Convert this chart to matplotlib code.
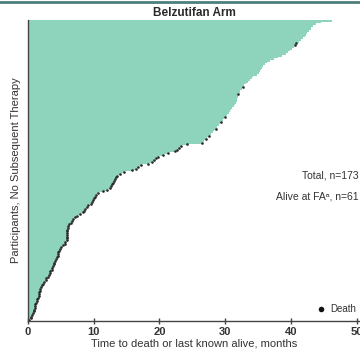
import numpy as np
import matplotlib
matplotlib.use('Agg')
import matplotlib.pyplot as plt
from matplotlib.lines import Line2D

plt.rcParams['font.family'] = ['Liberation Sans', 'DejaVu Sans']

# time on study (months) per participant, sorted longest first
months = [
    46.3, 44.5, 43.8, 43.4, 43.1, 43.0, 42.7, 42.5, 42.3, 42.1,
    41.8, 41.5, 41.2, 40.8, 40.6, 40.4, 40.2, 39.9, 39.6, 39.2,
    38.7, 38.1, 37.4, 36.8, 36.4, 36.0, 35.8, 35.6, 35.4, 35.3,
    35.2, 34.8, 34.3, 34.0, 33.7, 33.4, 33.1, 32.9, 32.7, 32.5,
    32.3, 32.2, 32.0, 32.0, 31.9, 31.8, 31.8, 31.7, 31.5, 31.3,
    31.1, 30.9, 30.8, 30.6, 30.3, 30.0, 29.8, 29.6, 29.4, 29.2,
    29.0, 28.8, 28.6, 28.3, 28.1, 27.8, 27.6, 27.3, 27.0, 26.7,
    26.4, 24.2, 23.2, 22.9, 22.7, 22.3, 21.3, 20.6, 19.7, 19.5,
    19.2, 18.9, 18.2, 17.2, 16.8, 16.4, 15.8, 14.6, 14.0, 13.6,
    13.4, 13.3, 13.1, 12.9, 12.8, 12.6, 12.4, 12.0, 11.4, 10.7,
    10.4, 10.2, 10.1, 9.9, 9.7, 9.6, 9.2, 9.0, 8.7, 8.5,
    8.3, 7.9, 7.5, 7.2, 6.9, 6.7, 6.5, 6.3, 6.1, 6.1,
    6.0, 6.0, 6.0, 6.0, 5.9, 5.9, 5.9, 5.7, 5.6, 5.3,
    5.0, 4.8, 4.7, 4.6, 4.6, 4.5, 4.4, 4.3, 4.1, 4.0,
    3.9, 3.8, 3.7, 3.6, 3.4, 3.3, 3.2, 3.0, 2.8, 2.7,
    2.5, 2.3, 2.2, 2.0, 1.9, 1.8, 1.7, 1.6, 1.6, 1.5,
    1.4, 1.3, 1.2, 1.1, 1.1, 1.0, 0.9, 0.9, 0.8, 0.6,
    0.5, 0.4, 0.2,
]

# 1 = died, 0 = alive at final analysis (same order as months)
died = [
    0, 0, 0, 0, 0, 0, 0, 0, 0, 0,
    0, 0, 0, 1, 1, 0, 0, 0, 0, 0,
    0, 0, 0, 0, 0, 0, 0, 0, 0, 0,
    0, 0, 0, 0, 0, 0, 0, 0, 1, 0,
    0, 0, 1, 0, 0, 0, 0, 0, 0, 0,
    0, 0, 0, 0, 0, 1, 0, 0, 1, 0,
    0, 0, 1, 0, 0, 0, 1, 0, 1, 0,
    1, 1, 1, 1, 1, 1, 1, 1, 1, 1,
    1, 1, 1, 1, 1, 1, 1, 1, 1, 1,
    1, 1, 1, 1, 1, 1, 1, 1, 1, 1,
    1, 1, 1, 1, 1, 1, 1, 1, 1, 1,
    1, 1, 1, 1, 1, 1, 1, 1, 1, 1,
    1, 1, 1, 1, 1, 1, 1, 1, 1, 1,
    1, 1, 1, 1, 1, 1, 1, 1, 1, 1,
    1, 1, 1, 1, 1, 1, 1, 1, 1, 1,
    1, 1, 1, 1, 1, 1, 1, 1, 1, 1,
    1, 1, 1, 1, 1, 1, 1, 1, 1, 1,
    1, 1, 1,
]

months = np.array(months)
died = np.array(died, dtype=bool)
rows = np.arange(len(months))

fig = plt.figure(figsize=(3.6, 3.53), dpi=100)
ax = fig.add_axes([28 / 360, 32 / 353, 332 / 360, 301 / 353])

# one bar per participant
ax.barh(rows, months, height=1.0, color='#8ed4bc', edgecolor='none')

# death markers at the end of the bar
ax.plot(months[died], rows[died], 'o', color='#2a2a2a', ms=1.9, mew=0)

ax.set_xlim(0, 50.5)
ax.set_ylim(len(months) - 0.5, -0.5)
ax.set_xticks([0, 10, 20, 30, 40, 50])
ax.set_yticks([])
ax.tick_params(axis='x', direction='inout', length=5, width=1, color='#444444',
               labelsize=8, pad=2)
for lab in ax.get_xticklabels():
    lab.set_fontweight('bold')
    lab.set_color('#333333')

for side in ['top', 'right']:
    ax.spines[side].set_visible(False)
for side in ['left', 'bottom']:
    ax.spines[side].set_color('#444444')
    ax.spines[side].set_linewidth(1)

ax.set_xlabel('Time to death or last known alive, months', fontsize=8,
              color='#333333', labelpad=1)
ax.set_ylabel('Participants, No Subsequent Therapy', fontsize=8,
              color='#333333', labelpad=5)
ax.set_title('Belzutifan Arm', fontsize=8.5, fontweight='bold',
             color='#2a2a2a', pad=3)

ax.text(0.995, 0.482, 'Total, n=173', transform=ax.transAxes, ha='right',
        va='center', fontsize=7.5, color='#333333')
ax.text(0.995, 0.412, 'Alive at FAᵃ, n=61', transform=ax.transAxes, ha='right',
        va='center', fontsize=7.5, color='#333333')

# legend
ax.plot([44.5], [165.5], 'o', color='#111111', ms=4, mew=0, clip_on=False)
ax.text(46.0, 165.5, 'Death', fontsize=7, color='#333333', va='center')

# header rule
fig.add_artist(Line2D([0, 1], [1 - 1.5 / 353, 1 - 1.5 / 353],
                      transform=fig.transFigure, color='#4d7f7c', lw=2))

plt.savefig('out.png', dpi=100)
plt.close()
